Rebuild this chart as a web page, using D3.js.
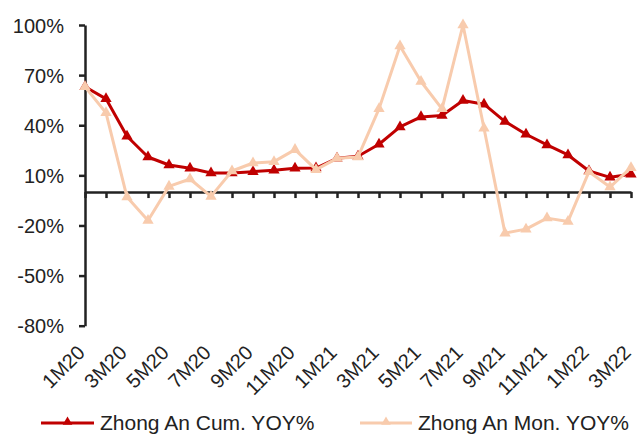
<!DOCTYPE html>
<html><head><meta charset="utf-8">
<script src="https://cdn.jsdelivr.net/npm/d3@7"></script>
<style>body{margin:0;background:#fff}svg{display:block}text{font-family:"Liberation Sans",Arial,sans-serif;fill:#222}</style>
</head><body><svg id="c" width="637" height="435"></svg>
<script>
const categories = ["1M20","2M20","3M20","4M20","5M20","6M20","7M20","8M20","9M20","10M20","11M20","12M20",
"1M21","2M21","3M21","4M21","5M21","6M21","7M21","8M21","9M21","10M21","11M21","12M21","1M22","2M22","3M22"];
const cumYoy = [63,55.8,33.4,21,16.2,14.2,11.4,11.4,12.2,13,14.2,14.4,20.2,21.4,28.6,39,45,45.8,54.8,52.6,42.2,34.6,28.2,22.2,12.6,8.8,10.6];
const monYoy = [63,47.4,-3,-17,3.4,7.8,-2.6,12.6,17.4,18.2,25.4,13.4,20.2,21,49.8,87.4,66.2,49.8,100,38.2,-24.6,-22.2,-15.6,-17.6,12.2,3,14.6];
const yTicks = [-80,-50,-20,10,40,70,100];
const xLabelEvery = 2;
const seriesNames = ["Zhong An Cum. YOY%","Zhong An Mon. YOY%"];
const colors = ["#C00000","#F8CBAD"];

const svg = d3.select("#c");
const x = d3.scalePoint().domain(categories).range([85,631]);
const y = d3.scaleLinear().domain([-80,100]).range([325.7,25]);
const fs = 20;

// y axis
const yAxis = svg.append("g").attr("transform","translate(85,0)")
  .call(d3.axisLeft(y).tickValues(yTicks).tickFormat(d=>d+"%").tickSize(6).tickSizeOuter(0));
yAxis.select(".domain").attr("stroke","#222").attr("stroke-width",2.5);
yAxis.selectAll(".tick line").attr("stroke","#222").attr("stroke-width",2.5);
yAxis.selectAll(".tick text").attr("font-size",fs).attr("x",-21).attr("dy","0.35em").style("font-family","Liberation Sans, Arial").attr("fill","#222");

// x axis at zero
const xAxis = svg.append("g").attr("transform",`translate(0,${y(0)})`)
  .call(d3.axisBottom(x).tickSize(6).tickSizeOuter(0).tickFormat(""));
xAxis.select(".domain").attr("stroke","#222").attr("stroke-width",2.5);
xAxis.selectAll(".tick line").attr("stroke","#222").attr("stroke-width",2.5);

// x labels at bottom, rotated
svg.append("g").selectAll("text").data(categories.filter((d,i)=>i%xLabelEvery===0)).join("text")
  .attr("transform",d=>`translate(${x(d)+1},${354}) rotate(-45)`)
  .attr("text-anchor","end").attr("font-size",fs).text(d=>d);

const tri = d3.symbol().type(d3.symbolTriangle).size(55);
function drawSeries(vals, color){
  const line = d3.line().x((d,i)=>x(categories[i])).y(d=>y(d));
  svg.append("path").datum(vals).attr("d",line).attr("fill","none").attr("stroke",color).attr("stroke-width",3).attr("stroke-linejoin","round");
  svg.append("g").selectAll("path").data(vals).join("path")
    .attr("d",tri).attr("fill",color)
    .attr("transform",(d,i)=>`translate(${x(categories[i])},${y(d)})`);
}
drawSeries(cumYoy, colors[0]);
drawSeries(monYoy, colors[1]);

// legend
const legend = [{x1:41,x2:94,tx:100},{x1:360,x2:412,tx:418}];
legend.forEach((l,i)=>{
  const g = svg.append("g");
  g.append("line").attr("x1",l.x1).attr("x2",l.x2).attr("y1",423).attr("y2",423).attr("stroke",colors[i]).attr("stroke-width",3);
  g.append("path").attr("d",d3.symbol().type(d3.symbolTriangle).size(40)).attr("fill",colors[i]).attr("transform",`translate(${(l.x1+l.x2)/2},422)`);
  g.append("text").attr("x",l.tx).attr("y",423).attr("dy","0.35em").attr("font-size",21).text(seriesNames[i]);
});
</script></body></html>
